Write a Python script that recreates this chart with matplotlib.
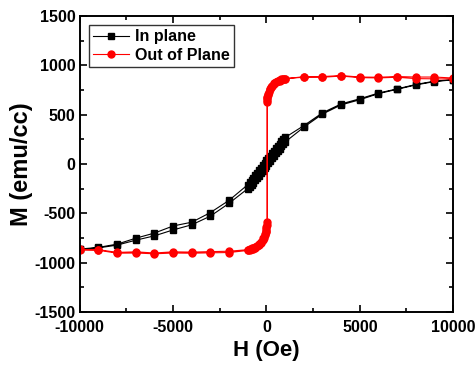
import matplotlib
matplotlib.use("Agg")
import matplotlib.pyplot as plt
from matplotlib.ticker import MultipleLocator

plt.rcParams["font.family"] = ["Liberation Sans", "DejaVu Sans"]
plt.rcParams["font.weight"] = "bold"
plt.rcParams["axes.unicode_minus"] = False

# in plane loop, descending branch (+H -> -H)
h_in_down = [10000, 9000, 8000, 7000, 6000, 5000, 4000, 3000, 2000, 1000,
             900, 800, 700, 600, 500, 400, 300, 200, 100, 0,
             -100, -200, -300, -400, -500, -600, -700, -800, -900, -1000,
             -2000, -3000, -4000, -5000, -6000, -7000, -8000, -9000, -10000]
m_in_down = [855, 838, 805, 760, 718, 660, 608, 518, 388, 268,
             248, 228, 205, 182, 158, 135, 110, 85, 60, 35,
             10, -15, -40, -65, -90, -115, -138, -160, -185, -210,
             -368, -492, -590, -628, -700, -752, -812, -845, -862]
# in plane loop, ascending branch (-H -> +H)
h_in_up = [-10000, -9000, -8000, -7000, -6000, -5000, -4000, -3000, -2000, -1000,
           -900, -800, -700, -600, -500, -400, -300, -200, -100, 0,
           100, 200, 300, 400, 500, 600, 700, 800, 900, 1000,
           2000, 3000, 4000, 5000, 6000, 7000, 8000, 9000, 10000]
m_in_up = [-866, -850, -822, -772, -728, -668, -616, -528, -398, -250,
           -230, -210, -188, -165, -142, -118, -93, -68, -43, -18,
           7, 32, 57, 82, 106, 130, 154, 178, 200, 222,
           372, 505, 598, 650, 712, 756, 800, 834, 852]

# out of plane loop, descending branch
h_out_down = [10000, 9000, 8000, 7000, 6000, 5000, 4000, 3000, 2000, 1000,
              900, 800, 700, 600, 500, 400, 300, 250, 200, 150, 100, 50, 40,
              40, 0, -50, -100, -200, -300, -400, -500, -600, -700, -800, -900, -1000,
              -2000, -3000, -4000, -5000, -6000, -7000, -8000, -9000, -10000]
m_out_down = [870, 880, 880, 885, 878, 880, 895, 885, 884, 862,
              857, 852, 845, 836, 826, 812, 792, 776, 757, 732, 702, 668, 630,
              -592, -635, -675, -705, -752, -786, -808, -826, -838, -848, -856, -862, -868,
              -884, -888, -893, -890, -902, -890, -896, -868, -866]
# out of plane loop, ascending branch
h_out_up = [-10000, -9000, -8000, -7000, -6000, -5000, -4000, -3000, -2000, -1000,
            -900, -800, -700, -600, -500, -400, -300, -200, -150, -100, -50, 0, 40,
            40, 50, 100, 200, 300, 400, 500, 600, 700, 800, 900, 1000,
            2000, 3000, 4000, 5000, 6000, 7000, 8000, 9000, 10000]
m_out_up = [-872, -874, -904, -902, -910, -902, -904, -900, -897, -876,
            -870, -864, -857, -848, -836, -820, -800, -766, -745, -720, -690, -655, -615,
            650, 675, 712, 758, 792, 815, 830, 842, 850, 856, 860, 865,
            878, 878, 890, 874, 871, 878, 864, 862, 860]

fig = plt.figure(figsize=(4.75, 3.68), dpi=100)
ax = fig.add_axes([0.168, 0.152, 0.786, 0.805])

ax.plot(h_in_down + h_in_up, m_in_down + m_in_up, color="black", lw=0.8,
        marker="s", markersize=5, label="In plane")
ax.plot(h_out_down + h_out_up, m_out_down + m_out_up, color="red", lw=0.8,
        marker="o", markersize=5, label="Out of Plane")

ax.set_xlim(-10000, 10000)
ax.set_ylim(-1500, 1500)
ax.xaxis.set_major_locator(MultipleLocator(5000))
ax.xaxis.set_minor_locator(MultipleLocator(2500))
ax.yaxis.set_major_locator(MultipleLocator(500))
ax.yaxis.set_minor_locator(MultipleLocator(250))
ax.tick_params(which="both", direction="in", top=True, right=True,
               width=1.2, labelsize=11.5)
ax.tick_params(axis="x", pad=6)
ax.tick_params(axis="y", pad=3)
ax.tick_params(which="major", length=5)
ax.tick_params(which="minor", length=3)
for s in ax.spines.values():
    s.set_linewidth(1.4)

ax.set_xlabel("H (Oe)", fontsize=16, fontweight="bold", labelpad=3)
ax.set_ylabel("M (emu/cc)", fontsize=17, fontweight="bold", labelpad=1)

leg = ax.legend(loc="upper left", fontsize=11.5, frameon=True, fancybox=False,
                borderpad=0.25, handlelength=2.2, handletextpad=0.4,
                labelspacing=0.2, borderaxespad=0.6)
leg.get_frame().set_edgecolor("black")
leg.get_frame().set_linewidth(1.0)
for t in leg.get_texts():
    t.set_fontweight("bold")

fig.savefig("out.png", dpi=100)
